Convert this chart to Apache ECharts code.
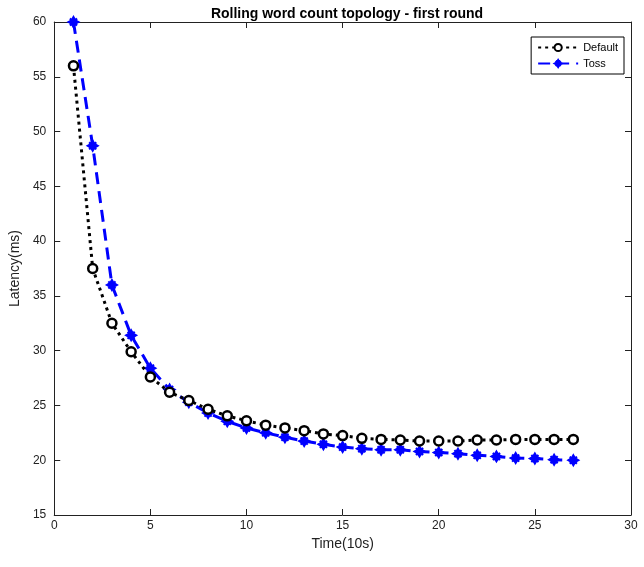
<!DOCTYPE html>
<html>
<head>
<meta charset="utf-8">
<script src="https://cdn.jsdelivr.net/npm/echarts@6/dist/echarts.min.js"></script>
<style>
  html, body { margin: 0; padding: 0; background: #fff; }
  #chart { width: 644px; height: 567px; }
</style>
</head>
<body>
<div id="chart"></div>
<script>
var timeSteps = [1,2,3,4,5,6,7,8,9,10,11,12,13,14,15,16,17,18,19,20,21,22,23,24,25,26,27];
var defaultLatency = [56.0,37.5,32.5,29.9,27.6,26.2,25.45,24.65,24.05,23.6,23.2,22.95,22.7,22.4,22.25,22.0,21.9,21.85,21.75,21.75,21.75,21.85,21.85,21.9,21.9,21.9,21.9];
var tossLatency = [60.0,48.7,36.0,31.4,28.4,26.45,25.3,24.3,23.55,22.95,22.5,22.1,21.75,21.45,21.2,21.05,20.95,20.95,20.8,20.7,20.6,20.45,20.35,20.2,20.15,20.05,20.0];
var xTicks = [0,5,10,15,20,25,30];
var yTicks = [15,20,25,30,35,40,45,50,55,60];

function pairs(xs, ys) {
  return xs.map(function (x, i) { return [x, ys[i]]; });
}

// chunky asterisk like the matlab '*' marker drawn with a thick pen
var starPath = 'path://M0,-10 L3.5,-4 L7,-7 L4,-3.5 L10,0 L4,3.5 L7,7 L3.5,4 L0,10 L-3.5,4 L-7,7 L-4,3.5 L-10,0 L-4,-3.5 L-7,-7 L-3.5,-4 Z';

var myChart = echarts.init(document.getElementById('chart'));
var font = 'Liberation Sans, Arial, sans-serif';
var option = {
  animation: false,
  textStyle: { fontFamily: font },
  title: {
    text: 'Rolling word count topology - first round',
    left: 342,
    textAlign: 'center',
    top: 2,
    textStyle: { fontSize: 14, fontWeight: 'bold', color: '#000', fontFamily: font }
  },
  grid: { left: 52, right: 13, top: 22, bottom: 52 },
  legend: {
    right: 20,
    top: 37,
    orient: 'vertical',
    backgroundColor: '#fff',
    borderColor: '#000',
    borderWidth: 1,
    borderRadius: 0,
    padding: [5, 6, 5, 6],
    itemGap: 5,
    itemWidth: 40,
    itemHeight: 9,
    textStyle: { fontSize: 11, color: '#000', fontFamily: font },
    data: ['Default', 'Toss']
  },
  xAxis: [{
    type: 'value',
    min: 0, max: 30, interval: 5,
    name: 'Time(10s)',
    nameLocation: 'middle',
    nameGap: 22,
    nameTextStyle: { fontSize: 14, color: '#222', fontFamily: font },
    axisLine: { onZero: false, lineStyle: { color: '#222', width: 1 } },
    axisTick: { inside: true, length: 6, lineStyle: { color: '#222' } },
    axisLabel: { fontSize: 12, color: '#222', margin: 5 },
    splitLine: { show: false }
  }, {
    type: 'value',
    position: 'top',
    min: 0, max: 30, interval: 5,
    axisLine: { onZero: false, lineStyle: { color: '#222', width: 1 } },
    axisTick: { inside: true, length: 6, lineStyle: { color: '#222' } },
    axisLabel: { show: false },
    splitLine: { show: false }
  }],
  yAxis: [{
    type: 'value',
    min: 15, max: 60, interval: 5,
    name: 'Latency(ms)',
    nameLocation: 'middle',
    nameGap: 26,
    nameTextStyle: { fontSize: 14, color: '#222', fontFamily: font },
    axisLine: { show: true, onZero: false, lineStyle: { color: '#222', width: 1 } },
    axisTick: { show: true, inside: true, length: 6, lineStyle: { color: '#222' } },
    axisLabel: { fontSize: 12, color: '#222', margin: 8 },
    splitLine: { show: false }
  }, {
    type: 'value',
    position: 'right',
    min: 15, max: 60, interval: 5,
    axisLine: { show: true, onZero: false, lineStyle: { color: '#222', width: 1 } },
    axisTick: { show: true, inside: true, length: 6, lineStyle: { color: '#222' } },
    axisLabel: { show: false },
    splitLine: { show: false }
  }],
  series: [{
    name: 'Default',
    type: 'line',
    data: pairs(timeSteps, defaultLatency),
    symbol: 'circle',
    symbolSize: 9,
    itemStyle: { color: '#fff', borderColor: '#000', borderWidth: 2.5 },
    lineStyle: { color: '#000', width: 3, type: [3, 4] },
    z: 3
  }, {
    name: 'Toss',
    type: 'line',
    data: pairs(timeSteps, tossLatency),
    symbol: starPath,
    symbolSize: 10,
    itemStyle: { color: '#0000ff', borderColor: '#0000ff', borderWidth: 2 },
    lineStyle: { color: '#0000ff', width: 3, type: [12, 7] },
    z: 2
  }]
};
myChart.setOption(option);
</script>
</body>
</html>
